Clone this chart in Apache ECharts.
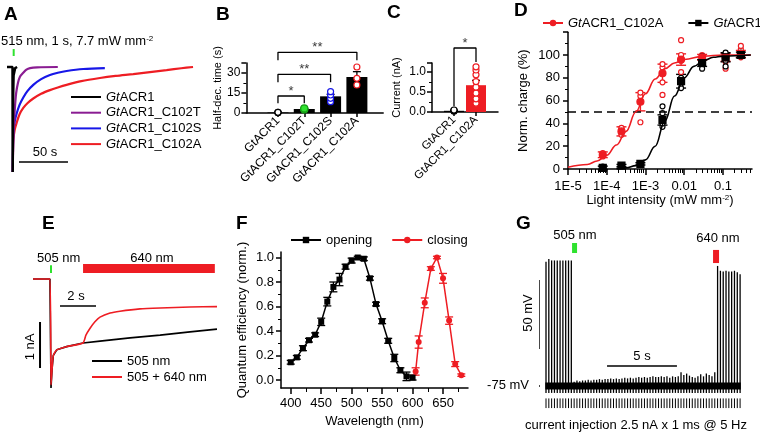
<!DOCTYPE html>
<html>
<head>
<meta charset="utf-8">
<script src="https://cdn.jsdelivr.net/npm/echarts@6.0.0/dist/echarts.min.js"></script>
<style>
  html, body { margin: 0; background: #fff; }
  #main { width: 760px; height: 432px; }
</style>
</head>
<body>
<div id="main"></div>
<script>
var FONT = '"Liberation Sans", Arial, Helvetica, sans-serif';
var RED = '#ee1d23';
var BLUE = '#1717e8';
var PURPLE = '#8a1c92';
var GREEN = '#2fe22f';

// A: normalised photocurrent after a 1 s pulse, [time (s), I / Ipeak]
var aGt = [[-5.8, 0], [-0.2, 0], [0, -1], [0.3, -0.35], [0.9, -0.08], [2.5, -0.01], [4.5, 0]];
var aC102T = [[0, -1], [0.4, -0.8], [0.8, -0.66], [1.5, -0.5], [2.3, -0.38], [3.5, -0.25], [5.4, -0.15], [7.5, -0.09], [10.5, -0.057], [14, -0.025], [17.7, -0.01], [25, -0.003], [46, 0]];
var aC102S = [[0, -1], [0.3, -0.75], [0.6, -0.63], [2, -0.52], [4.1, -0.44], [7, -0.36], [10.8, -0.29], [15, -0.23], [21, -0.17], [29, -0.115], [38, -0.076], [46, -0.055], [55, -0.038], [72, -0.019], [94, -0.01]];
var aC102A = [[0, -1], [0.3, -0.8], [0.6, -0.7], [2, -0.6], [4.1, -0.53], [7, -0.45], [10.8, -0.39], [15, -0.345], [21, -0.3], [29, -0.255], [38, -0.22], [46, -0.195], [55, -0.17], [70, -0.135], [89, -0.105], [105, -0.085], [123, -0.067], [140, -0.048], [157, -0.029], [172, -0.012], [184, 0]];

// B: half-decay time (s)
var bNames = ['GtACR1', 'GtACR1_C102T', 'GtACR1_C102S', 'GtACR1_C102A'];
var bMean = [0.4, 3.0, 12.5, 27];
var bSem = [0.1, 0.4, 1.5, 4];
var bPtsGt = [0.3, 0.4, 0.5];
var bPtsT = [2.6, 3.0, 3.4];
var bPtsS = [8.5, 11, 13.5, 16];
var bPtsA = [21, 26, 34.5];
var bSig = [[0, 1, 12.75, '*'], [0, 2, 29, '**'], [0, 3, 45.5, '**']];

// C: photocurrent amplitude (nA)
var cNames = ['GtACR1', 'GtACR1_C102A'];
var cMean = [0.03, 0.67];
var cSem = [0.01, 0.12];
var cPtsGt = [0.02, 0.04, 0.05];
var cPtsA = [0.22, 0.33, 0.47, 0.62, 0.76, 0.93, 1.05, 1.13];

// D: light sensitivity, intensities in mW mm-2, charge in %
var dInt = [7.9e-5, 2.4e-4, 7.4e-4, 2.75e-3, 8.3e-3, 0.029, 0.117, 0.29];
var dRed = [12.5, 33, 59, 84, 96, 98, 98, 101];
var dRedErr = [2.5, 4, 8, 8, 5, 2.5, 3.5, 3];
var dBlk = [1, 3, 4.5, 43, 77, 93, 98, 100];
var dBlkErr = [1.5, 1, 1, 4.5, 6, 3, 4, 2.5];
var dRedPts = [[7.9e-5, 11], [7.9e-5, 14], [2.4e-4, 30], [2.4e-4, 35], [2.4e-4, 36], [7.4e-4, 41], [7.4e-4, 64], [7.4e-4, 67],
  [2.75e-3, 65], [2.75e-3, 76], [2.75e-3, 84], [2.75e-3, 89], [2.75e-3, 92], [8.3e-3, 85], [8.3e-3, 95], [8.3e-3, 100], [8.3e-3, 113],
  [0.029, 96], [0.029, 98], [0.029, 100], [0.117, 88], [0.117, 94], [0.117, 97], [0.117, 100], [0.29, 98], [0.29, 100], [0.29, 105], [0.29, 108]];
var dBlkPts = [[7.9e-5, 0], [7.9e-5, 2], [2.4e-4, 2.5], [2.4e-4, 3.5], [7.4e-4, 3.5], [7.4e-4, 5], [2.75e-3, 37], [2.75e-3, 40], [2.75e-3, 49], [2.75e-3, 55],
  [8.3e-3, 71], [8.3e-3, 75], [8.3e-3, 80], [0.029, 88], [0.029, 92], [0.029, 95], [0.029, 99], [0.117, 90], [0.117, 95], [0.117, 98], [0.117, 102], [0.29, 99], [0.29, 102]];
// fitted curves, [log10 intensity, %]
var dRedFit = [[-5, 1.5], [-4.5, 4], [-4.25, 7], [-4, 12], [-3.75, 21], [-3.5, 33], [-3.25, 50], [-3, 66], [-2.75, 79], [-2.5, 88], [-2.25, 93], [-2, 96], [-1.5, 99], [-1, 100], [-0.28, 100]];
var dBlkFit = [[-3.75, 0.3], [-3.5, 1], [-3.25, 3], [-3, 8], [-2.75, 20], [-2.5, 42], [-2.25, 64], [-2, 80], [-1.75, 90], [-1.5, 95], [-1.25, 98], [-1, 99], [-0.28, 100]];
var dXLabels = { '-5': '1E-5', '-4': '1E-4', '-3': '1E-3', '-2': '0.01', '-1': '0.1' };

// E: photocurrent (nA) vs time (s)
var e505 = [[0, 0], [0.94, 0], [1.0, -2.37], [1.06, -1.95], [1.13, -1.66], [1.32, -1.54], [1.87, -1.47], [2.78, -1.39],
  [3.72, -1.35], [5.39, -1.28], [7.06, -1.22], [8.72, -1.15], [10.22, -1.09]];
var e505640 = [[0, 0], [0.94, 0], [1.0, -2.3], [1.06, -1.95], [1.13, -1.66], [1.32, -1.54], [1.87, -1.47], [2.78, -1.39],
  [2.94, -1.22], [3.17, -1.07], [3.44, -0.93], [3.72, -0.83], [4.28, -0.74], [4.83, -0.7], [5.94, -0.65], [7.06, -0.63], [8.72, -0.61], [10.22, -0.6]];

// F: action spectra
var fOpenNm = [400, 410, 420, 430, 440, 450, 460, 470, 480, 490, 500, 510, 520, 530, 540, 550, 560, 570, 580, 590, 600];
var fOpen = [0.145, 0.185, 0.26, 0.325, 0.37, 0.475, 0.64, 0.76, 0.82, 0.925, 0.975, 1.0, 0.99, 0.83, 0.62, 0.48, 0.32, 0.18, 0.08, 0.03, 0.02];
var fOpenErr = [0.015, 0.015, 0.02, 0.015, 0.015, 0.03, 0.035, 0.04, 0.05, 0.02, 0.02, 0.01, 0.015, 0.015, 0.015, 0.02, 0.02, 0.03, 0.02, 0.035, 0.02];
var fCloseNm = [605, 610, 620, 630, 640, 650, 660, 670, 680];
var fClose = [0.07, 0.31, 0.63, 0.91, 1.0, 0.83, 0.485, 0.13, 0.04];
var fCloseErr = [0.03, 0.05, 0.04, 0.015, 0.01, 0.04, 0.03, 0.02, 0.01];

// G: membrane potential peak (mV) after each 5 Hz current pulse
var gStep = 0.2;
var gPeak = [
  15, 17, 16, 16, 16, 16, 16, 16, 16, 16,
  -72, -71, -71.5, -71, -71, -70.5, -71, -70.5, -70.5, -70,
  -70.5, -70, -70, -69.5, -70, -69.5, -70, -69.5, -69, -69.5,
  -69, -69.5, -69, -68.5, -69, -68.5, -69, -68.5, -68, -68.5,
  -68.5, -68, -68.5, -68, -69, -68, -68.5, -68,
  -65, -67, -66, -67.5, -68.5, -69, -68, -66.5, -68, -66, -67, -68, -65,
  12, 8.5, 8, 8.5, 8, 8, 8.5, 7.5, 6
];

// ---- helpers ----
function pairs(xs, ys) { return xs.map(function (x, i) { return [x, ys[i]]; }); }
function errData(xs, m, e) { return xs.map(function (x, i) { return [x, m[i] - e[i], m[i] + e[i]]; }); }
function at(x, vals) { return vals.map(function (v) { return [x, v]; }); }
function legendName(n) { return n.split('|')[1].replace(/^Gt/, '{i|Gt}'); }

function lineSeries(name, xi, yi, data, color, width, more) {
  var s = {
    type: 'line', name: name, xAxisIndex: xi, yAxisIndex: yi, data: data,
    symbol: 'none', showSymbol: false, clip: false, silent: true,
    lineStyle: { color: color, width: width }, itemStyle: { color: color }
  };
  return Object.assign(s, more || {});
}
function segSeries(xi, yi, data, color, width, cap) {
  return {
    type: 'custom', xAxisIndex: xi, yAxisIndex: yi, data: data, silent: true,
    encode: { x: 0, y: [1, 2] },
    renderItem: function (params, api) {
      var x = api.value(0);
      var a = api.coord([x, api.value(1)]);
      var b = api.coord([x, api.value(2)]);
      var st = { stroke: color, lineWidth: width };
      var kids = [{ type: 'line', shape: { x1: a[0], y1: a[1], x2: b[0], y2: b[1] }, style: st }];
      if (cap) {
        kids.push({ type: 'line', shape: { x1: a[0] - cap, y1: a[1], x2: a[0] + cap, y2: a[1] }, style: st });
        kids.push({ type: 'line', shape: { x1: b[0] - cap, y1: b[1], x2: b[0] + cap, y2: b[1] }, style: st });
      }
      return { type: 'group', children: kids };
    }
  };
}
function dotSeries(xi, yi, data, symbol, size, fill, stroke) {
  return {
    type: 'scatter', xAxisIndex: xi, yAxisIndex: yi, data: data, symbol: symbol, symbolSize: size,
    clip: false, silent: true, itemStyle: { color: fill, borderColor: stroke, borderWidth: 1.2, opacity: 1 }
  };
}
function bracketSeries(xi, yi, from, to, top, legL, legR) {
  return lineSeries('', xi, yi, [[from, top - legL], [from, top], [to, top], [to, top - legR]], '#000', 1.3);
}
function starSeries(xi, yi, data) {
  return {
    type: 'scatter', xAxisIndex: xi, yAxisIndex: yi, symbolSize: 1, clip: false, silent: true,
    itemStyle: { color: 'rgba(0,0,0,0)' }, data: data,
    label: { show: true, position: 'top', distance: -2, formatter: '{b}', color: '#000', fontSize: 13, fontFamily: FONT }
  };
}
function lbl(size, more) { return Object.assign({ color: '#000', fontSize: size, fontFamily: FONT }, more || {}); }
function txt(s, x, y, o) {
  o = o || {};
  return {
    type: 'text', x: x, y: y, rotation: o.rot || 0, silent: true,
    style: {
      text: s, fill: '#000', fontSize: o.size || 13, fontFamily: FONT, fontWeight: o.bold ? 'bold' : 'normal',
      align: o.align || 'left', verticalAlign: 'middle', rich: o.rich
    }
  };
}

var AX_LINE = { show: true, onZero: false, lineStyle: { color: '#000', width: 1.5 } };
var NO_LINE = { show: false, onZero: false };
var AX_TICK = { show: true, length: 5, lineStyle: { color: '#000', width: 1.5 } };
var MINOR = { show: true, splitNumber: 2, length: 3, lineStyle: { color: '#000', width: 1 } };
var NOSPLIT = { show: false };
var legendText = {
  color: '#000', fontSize: 13, fontFamily: FONT, lineHeight: 14,
  rich: { i: { fontStyle: 'italic', fontSize: 13, fontFamily: FONT, color: '#000', lineHeight: 14 } }
};

var dMinor = [];
for (var n = -5; n <= -1; n++) {
  for (var k = 2; k <= 9; k++) {
    var v = n + Math.log10(k);
    if (v < -0.25) dMinor.push(v);
  }
}
var dLog = dInt.map(function (x) { return Math.log10(x); });
var gT = gPeak.map(function (p, i) { return i * gStep; });

var option = {
  animation: false,
  backgroundColor: '#fff',
  textStyle: { fontFamily: FONT },
  grid: [
    { left: 5, top: 56.5, width: 195, height: 120.75 },     // A
    { left: 246.4, top: 63, width: 136.8, height: 50 },     // B
    { left: 432, top: 63, width: 66, height: 49 },          // C
    { left: 568, top: 32.2, width: 184, height: 136.8 },    // D
    { left: 33, top: 260.6, width: 184, height: 128.8 },    // E
    { left: 281, top: 252, width: 187, height: 136 },       // F
    { left: 540, top: 240, width: 206, height: 174 }        // G
  ],
  xAxis: [
    { type: 'value', gridIndex: 0, min: -7.86, max: 191.1, show: false },
    {
      type: 'value', gridIndex: 1, min: -1.2, max: 4, position: 'bottom', splitLine: NOSPLIT, axisLine: AX_LINE,
      axisTick: { show: true, length: 4, lineStyle: { color: '#000', width: 1.5 }, customValues: [0, 1, 2, 3] },
      axisLabel: lbl(12, { customValues: [0, 1, 2, 3], rotate: 45, margin: 6, formatter: function (v) { return bNames[Math.round(v)] || ''; } })
    },
    {
      type: 'value', gridIndex: 2, min: -1, max: 2, position: 'bottom', splitLine: NOSPLIT, axisLine: AX_LINE,
      axisTick: { show: true, length: 4, lineStyle: { color: '#000', width: 1.5 }, customValues: [0, 1] },
      axisLabel: lbl(11.5, { customValues: [0, 1], rotate: 45, margin: 6, formatter: function (v) { return cNames[Math.round(v)] || ''; } })
    },
    {
      type: 'value', gridIndex: 3, min: -5, max: -0.25, position: 'bottom', splitLine: NOSPLIT, axisLine: AX_LINE,
      axisTick: { show: true, length: 6, lineStyle: { color: '#000', width: 1.5 }, customValues: [-5, -4, -3, -2, -1] },
      axisLabel: lbl(13, { customValues: [-5, -4, -3, -2, -1], margin: 11, formatter: function (v) { return dXLabels[String(Math.round(v))] || ''; } }),
      name: 'Light intensity (mW mm{s|-2})', nameLocation: 'middle', nameGap: 24,
      nameTextStyle: lbl(13, { rich: { s: { fontSize: 8, verticalAlign: 'top', fontFamily: FONT, color: '#000' } } })
    },
    {
      type: 'value', gridIndex: 3, min: -5, max: -0.25, position: 'bottom', splitLine: NOSPLIT,
      axisLine: NO_LINE, axisLabel: { show: false },
      axisTick: { show: true, length: 4, lineStyle: { color: '#000', width: 1 }, customValues: dMinor }
    },
    { type: 'value', gridIndex: 4, min: 0, max: 10.22, show: false },
    {
      type: 'value', gridIndex: 5, min: 384, max: 691, position: 'bottom', splitLine: NOSPLIT, axisLine: AX_LINE,
      axisTick: { show: true, length: 6, lineStyle: { color: '#000', width: 1.5 }, customValues: [400, 450, 500, 550, 600, 650] },
      axisLabel: lbl(13, { customValues: [400, 450, 500, 550, 600, 650], margin: 9 }),
      name: 'Wavelength (nm)', nameLocation: 'middle', nameGap: 27, nameTextStyle: lbl(13)
    },
    {
      type: 'value', gridIndex: 5, min: 384, max: 691, position: 'bottom', splitLine: NOSPLIT,
      axisLine: NO_LINE, axisLabel: { show: false },
      axisTick: { show: true, length: 4, lineStyle: { color: '#000', width: 1 }, customValues: [425, 475, 525, 575, 625, 675] }
    },
    { type: 'value', gridIndex: 6, min: -0.427, max: 14.22, show: false }
  ],
  yAxis: [
    { type: 'value', gridIndex: 0, min: -1.05, max: 0.1, show: false },
    {
      type: 'value', gridIndex: 1, min: 0, max: 37.5, interval: 15, position: 'left', splitLine: NOSPLIT,
      axisLine: AX_LINE, axisTick: AX_TICK, minorTick: MINOR,
      axisLabel: lbl(12, { margin: 6, formatter: function (v) { return v % 15 === 0 ? String(v) : ''; } }),
      name: 'Half-dec. time (s)', nameLocation: 'middle', nameRotate: 90, nameGap: 18, nameTextStyle: lbl(11)
    },
    {
      type: 'value', gridIndex: 2, min: 0, max: 1.225, interval: 0.5, position: 'left', splitLine: NOSPLIT,
      axisLine: AX_LINE, axisTick: AX_TICK, minorTick: MINOR,
      axisLabel: lbl(12, { margin: 6, formatter: function (v) { return Math.abs(v * 2 - Math.round(v * 2)) < 1e-6 ? v.toFixed(1) : ''; } }),
      name: 'Current (nA)', nameLocation: 'middle', nameRotate: 90, nameGap: 30, nameTextStyle: lbl(11)
    },
    {
      type: 'value', gridIndex: 3, min: 0, max: 120, interval: 20, position: 'left', splitLine: NOSPLIT,
      axisLine: AX_LINE, axisTick: AX_TICK, minorTick: MINOR,
      axisLabel: lbl(13, { margin: 8, formatter: function (v) { return v <= 100 ? String(v) : ''; } }),
      name: 'Norm. charge (%)', nameLocation: 'middle', nameRotate: 90, nameGap: 38, nameTextStyle: lbl(13)
    },
    { type: 'value', gridIndex: 4, min: -2.4, max: 0.4, show: false },
    {
      type: 'value', gridIndex: 5, min: -0.065, max: 1.045, position: 'left', splitLine: NOSPLIT,
      axisLine: AX_LINE,
      axisTick: { show: true, length: 5, lineStyle: { color: '#000', width: 1.5 }, customValues: [0, 0.2, 0.4, 0.6, 0.8, 1.0] },
      axisLabel: lbl(13, { customValues: [0, 0.2, 0.4, 0.6, 0.8, 1.0], margin: 7, formatter: function (v) { return v.toFixed(1); } }),
      name: 'Quantum efficiency (norm.)', nameLocation: 'middle', nameRotate: 90, nameGap: 32, nameTextStyle: lbl(13)
    },
    {
      type: 'value', gridIndex: 5, min: -0.065, max: 1.045, position: 'left', splitLine: NOSPLIT,
      axisLine: NO_LINE, axisLabel: { show: false },
      axisTick: { show: true, length: 3, lineStyle: { color: '#000', width: 1 }, customValues: [0.1, 0.3, 0.5, 0.7, 0.9] }
    },
    { type: 'value', gridIndex: 6, min: -95.3, max: 30.8, show: false }
  ],
  legend: [
    {
      data: ['A|GtACR1', 'A|GtACR1_C102T', 'A|GtACR1_C102S', 'A|GtACR1_C102A'].map(function (n) { return { name: n, icon: 'rect' }; }),
      orient: 'vertical', left: 71, top: 90, padding: 0, itemWidth: 30, itemHeight: 2, itemGap: 1.7,
      selectedMode: false, formatter: legendName, textStyle: legendText
    },
    {
      data: ['D|GtACR1_C102A', 'D|GtACR1'], orient: 'horizontal', left: 542, top: 16, width: 280, padding: 0,
      itemWidth: 20, itemHeight: 8, itemGap: 24, selectedMode: false, formatter: legendName, textStyle: legendText
    },
    {
      data: ['E|505 nm', 'E|505 + 640 nm'].map(function (n) { return { name: n, icon: 'rect' }; }),
      orient: 'vertical', left: 92, top: 354, padding: 0, itemWidth: 30, itemHeight: 2, itemGap: 2,
      selectedMode: false, formatter: legendName, textStyle: legendText
    },
    {
      data: ['F|opening', 'F|closing'], orient: 'horizontal', left: 290, top: 233, padding: 0,
      itemWidth: 30, itemHeight: 8, itemGap: 19, selectedMode: false, formatter: legendName, textStyle: legendText
    }
  ],
  series: [
    // ---- A ----
    lineSeries('A|GtACR1_C102A', 0, 0, aC102A, RED, 2.2, { smooth: 0.3 }),
    lineSeries('A|GtACR1_C102S', 0, 0, aC102S, BLUE, 2.2, { smooth: 0.3 }),
    lineSeries('A|GtACR1_C102T', 0, 0, aC102T, PURPLE, 2.2, { smooth: 0.3 }),
    lineSeries('A|GtACR1', 0, 0, aGt, '#000', 2.5),
    lineSeries('', 0, 0, [[1, 0.105], [1, 0.171]], GREEN, 2),
    lineSeries('', 0, 0, [[6.4, -0.905], [56.4, -0.905]], '#000', 1.5),

    // ---- B ----
    {
      type: 'bar', xAxisIndex: 1, yAxisIndex: 1, barWidth: 21, silent: true,
      data: pairs([0, 1, 2, 3], bMean), itemStyle: { color: '#000' }
    },
    segSeries(1, 1, errData([0, 1, 2, 3], bMean, bSem), '#000', 1.3, 4),
    dotSeries(1, 1, at(0, bPtsGt), 'circle', 6, '#fff', '#000'),
    dotSeries(1, 1, at(1, bPtsT), 'circle', 7, GREEN, '#18a018'),
    dotSeries(1, 1, at(2, bPtsS), 'circle', 6, '#fff', BLUE),
    dotSeries(1, 1, at(3, bPtsA), 'circle', 6, '#fff', RED),
    bracketSeries(1, 1, bSig[0][0], bSig[0][1], bSig[0][2], 5.5, 5.5),
    bracketSeries(1, 1, bSig[1][0], bSig[1][1], bSig[1][2], 6, 6),
    bracketSeries(1, 1, bSig[2][0], bSig[2][1], bSig[2][2], 6, 6),
    starSeries(1, 1, bSig.map(function (b) { return { value: [(b[0] + b[1]) / 2, b[2]], name: b[3] }; })),

    // ---- C ----
    {
      type: 'bar', xAxisIndex: 2, yAxisIndex: 2, barWidth: 20, silent: true,
      data: [{ value: [0, cMean[0]], itemStyle: { color: '#000' } }, { value: [1, cMean[1]], itemStyle: { color: RED } }]
    },
    segSeries(2, 2, errData([0, 1], cMean, cSem), '#000', 1.3, 4),
    dotSeries(2, 2, at(0, cPtsGt), 'circle', 6, '#fff', '#000'),
    dotSeries(2, 2, at(1, cPtsA), 'circle', 6, '#fff', RED),
    bracketSeries(2, 2, 0, 1, 1.6, 1.45, 0.35),
    starSeries(2, 2, [{ value: [0.5, 1.6], name: '*' }]),

    // ---- D ----
    lineSeries('', 3, 3, [[-5, 50], [-0.25, 50]], '#000', 1.5, { lineStyle: { color: '#000', width: 1.5, type: [8, 5] } }),
    lineSeries('D|GtACR1_C102A', 3, 3, dRedFit, RED, 1.6, { smooth: 0.4, smoothMonotone: 'x', symbol: 'circle', symbolSize: 7 }),
    lineSeries('D|GtACR1', 3, 3, dBlkFit, '#000', 1.6, { smooth: 0.4, smoothMonotone: 'x', symbol: 'rect', symbolSize: 7 }),
    dotSeries(3, 3, dRedPts.map(function (p) { return [Math.log10(p[0]), p[1]]; }), 'circle', 5, '#fff', RED),
    dotSeries(3, 3, dBlkPts.map(function (p) { return [Math.log10(p[0]), p[1]]; }), 'circle', 5, '#fff', '#000'),
    segSeries(3, 3, errData(dLog, dRed, dRedErr), RED, 1.4, 5),
    segSeries(3, 3, errData(dLog, dBlk, dBlkErr), '#000', 1.4, 5),
    dotSeries(3, 3, pairs(dLog, dRed), 'circle', 7, RED, RED),
    dotSeries(3, 3, pairs(dLog, dBlk), 'rect', 7, '#000', '#000'),

    // ---- E ----
    lineSeries('E|505 nm', 5, 4, e505, '#000', 1.6),
    lineSeries('E|505 + 640 nm', 5, 4, e505640, RED, 1.6, { smooth: 0.2 }),
    lineSeries('', 5, 4, [[1.0, 0.13], [1.0, 0.3]], GREEN, 2),
    lineSeries('', 5, 4, [[2.78, 0.228], [10.1, 0.228]], RED, 9),
    lineSeries('', 5, 4, [[1.5, -0.587], [3.5, -0.587]], '#000', 1.5),
    lineSeries('', 5, 4, [[0.39, -0.935], [0.39, -1.935]], '#000', 2),

    // ---- F ----
    segSeries(6, 5, errData(fOpenNm, fOpen, fOpenErr), '#000', 1.3, 4),
    segSeries(6, 5, errData(fCloseNm, fClose, fCloseErr), RED, 1.3, 4),
    lineSeries('F|opening', 6, 5, pairs(fOpenNm, fOpen), '#000', 1.5, { symbol: 'rect', symbolSize: 6, showSymbol: true }),
    lineSeries('F|closing', 6, 5, pairs(fCloseNm, fClose), RED, 1.5, { symbol: 'circle', symbolSize: 6, showSymbol: true }),

    // ---- G ----
    lineSeries('', 8, 7, [[-0.05, -75], [13.85, -75]], '#000', 7),
    segSeries(8, 7, gT.map(function (t, i) { return [t, -80, gPeak[i]]; }), '#000', 1.3, 0),
    segSeries(8, 7, gT.map(function (t) { return [t, -84, -91]; }), '#000', 1, 0),
    lineSeries('', 8, 7, [[2.03, 21.4], [2.03, 28.6]], GREEN, 5),
    lineSeries('', 8, 7, [[12.09, 14.1], [12.09, 23.6]], RED, 6),
    lineSeries('', 8, 7, [[-0.5, -48.2], [-0.5, 1.8]], '#000', 1.5),
    lineSeries('', 8, 7, [[4.34, -60.5], [9.31, -60.5]], '#000', 1.5),
    lineSeries('', 8, 7, [[-1.14, -75], [-0.43, -75]], '#000', 1.5)
  ],
  graphic: [
    txt('A', 4, 15, { size: 19, bold: true }),
    txt('B', 216, 15, { size: 19, bold: true }),
    txt('C', 387, 13, { size: 19, bold: true }),
    txt('D', 514, 11, { size: 19, bold: true }),
    txt('E', 42, 224, { size: 19, bold: true }),
    txt('F', 236, 224, { size: 19, bold: true }),
    txt('G', 516, 224, { size: 19, bold: true }),
    txt('515 nm, 1 s, 7.7 mW mm{s|-2}', 1, 41, { rich: { s: { fontSize: 8, verticalAlign: 'top', fontFamily: FONT, fill: '#000' } } }),
    txt('50 s', 45, 152, { align: 'center' }),
    txt('505 nm', 37, 258),
    txt('640 nm', 152, 258, { align: 'center' }),
    txt('2 s', 76, 296, { align: 'center' }),
    txt('1 nA', 30, 347, { align: 'center', rot: Math.PI / 2 }),
    txt('505 nm', 575, 235, { align: 'center' }),
    txt('640 nm', 718, 238, { align: 'center' }),
    txt('50 mV', 528, 313, { align: 'center', rot: Math.PI / 2 }),
    txt('5 s', 642, 356, { align: 'center' }),
    txt('-75 mV', 529, 385, { align: 'right' }),
    txt('current injection 2.5 nA x 1 ms @ 5 Hz', 525, 425)
  ]
};

var chart = echarts.init(document.getElementById('main'));
chart.setOption(option);
</script>
</body>
</html>
